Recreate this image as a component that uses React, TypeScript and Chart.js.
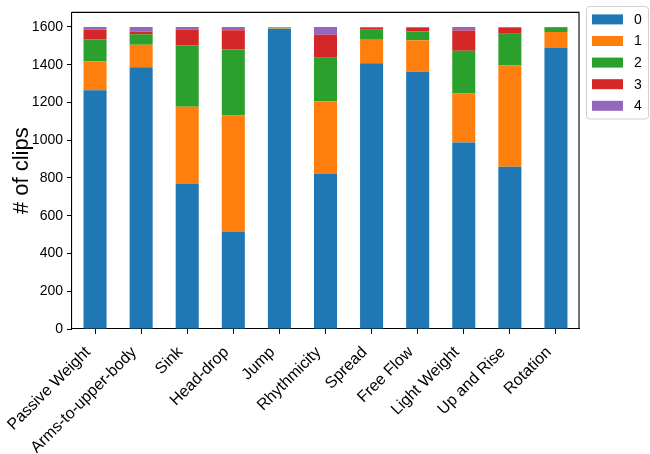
import React, { useEffect, useRef } from "react";
import { Chart, registerables } from "chart.js";

Chart.register(...registerables);

const categories = [
  "Passive Weight",
  "Arms-to-upper-body",
  "Sink",
  "Head-drop",
  "Jump",
  "Rhythmicity",
  "Spread",
  "Free Flow",
  "Light Weight",
  "Up and Rise",
  "Rotation",
];

const series0 = [1264, 1387, 768, 516, 1590, 821, 1407, 1363, 988, 860, 1488];
const series1 = [154, 118, 409, 615, 3, 385, 125, 166, 259, 536, 85];
const series2 = [117, 56, 326, 350, 4, 231, 53, 47, 227, 168, 22];
const series3 = [50, 14, 82, 102, 1, 122, 12, 21, 107, 33, 3];
const series4 = [15, 25, 15, 17, 0, 41, 3, 3, 19, 3, 1];

const seriesLabels = ["0", "1", "2", "3", "4"];
const seriesColors = ["#1f77b4", "#ff7f0e", "#2ca02c", "#d62728", "#9467bd"];
const yTicks = [0, 200, 400, 600, 800, 1000, 1200, 1400, 1600];
const yAxisTitle = "# of clips";

const FONT = "Arial, 'Liberation Sans', sans-serif";

export default function App() {
  const ref = useRef<HTMLCanvasElement | null>(null);

  useEffect(() => {
    if (!ref.current) return;
    const allSeries = [series0, series1, series2, series3, series4];

    const framePlugin = {
      id: "frameAndLegend",
      afterDraw(chart: any) {
        const { ctx, chartArea } = chart;
        ctx.save();
        ctx.strokeStyle = "#000";
        ctx.lineWidth = 1.1;
        ctx.beginPath();
        ctx.moveTo(chartArea.left, chartArea.top);
        ctx.lineTo(chartArea.right, chartArea.top);
        ctx.lineTo(chartArea.right, chartArea.bottom);
        ctx.stroke();

        // legend
        const lx = 586.5, ly = 6.5, lw = 62, lh = 112.5, r = 3;
        ctx.beginPath();
        ctx.moveTo(lx + r, ly);
        ctx.lineTo(lx + lw - r, ly);
        ctx.quadraticCurveTo(lx + lw, ly, lx + lw, ly + r);
        ctx.lineTo(lx + lw, ly + lh - r);
        ctx.quadraticCurveTo(lx + lw, ly + lh, lx + lw - r, ly + lh);
        ctx.lineTo(lx + r, ly + lh);
        ctx.quadraticCurveTo(lx, ly + lh, lx, ly + lh - r);
        ctx.lineTo(lx, ly + r);
        ctx.quadraticCurveTo(lx, ly, lx + r, ly);
        ctx.closePath();
        ctx.fillStyle = "rgba(255,255,255,0.8)";
        ctx.fill();
        ctx.strokeStyle = "#d0d0d0";
        ctx.lineWidth = 1;
        ctx.stroke();

        ctx.font = `14px ${FONT}`;
        ctx.textBaseline = "middle";
        ctx.textAlign = "left";
        seriesLabels.forEach((lab, i) => {
          const cy = 19.4 + i * 21.6;
          ctx.fillStyle = seriesColors[i];
          ctx.fillRect(592, cy - 5, 31, 10);
          ctx.fillStyle = "#000";
          ctx.fillText(lab, 634, cy + 0.5);
        });
        ctx.restore();
      },
    };

    const chart = new Chart(ref.current, {
      type: "bar",
      data: {
        labels: categories,
        datasets: allSeries.map((d, i) => ({
          label: seriesLabels[i],
          data: d,
          backgroundColor: seriesColors[i],
          borderWidth: 0,
          categoryPercentage: 1,
          barPercentage: 0.5,
        })),
      },
      options: {
        animation: false,
        responsive: false,
        maintainAspectRatio: false,
        layout: { padding: { top: 1, right: 71, left: 0, bottom: 0 } },
        plugins: {
          legend: { display: false },
          tooltip: { enabled: false },
        },
        scales: {
          x: {
            stacked: true,
            offset: true,
            grid: {
              display: true,
              drawOnChartArea: false,
              drawTicks: true,
              tickLength: 5,
              color: "#000",
              offset: false,
            },
            border: { display: true, color: "#000", width: 1.1 },
            ticks: {
              autoSkip: false,
              maxRotation: 45,
              minRotation: 45,
              color: "#000",
              padding: 9,
              labelOffset: -7,
              font: { size: 16, family: FONT },
            },
            afterFit(scale: any) {
              scale.height = 125;
            },
          },
          y: {
            stacked: true,
            min: 0,
            max: 1677,
            grid: {
              display: true,
              drawOnChartArea: false,
              drawTicks: true,
              tickLength: 5,
              color: "#000",
            },
            border: { display: true, color: "#000", width: 1.1 },
            ticks: {
              stepSize: 200,
              color: "#000",
              padding: 4,
              font: { size: 14, family: FONT },
              callback: (v: any) => String(v),
            },
            afterBuildTicks(scale: any) {
              scale.ticks = yTicks.map((v) => ({ value: v }));
            },
            title: {
              display: true,
              text: yAxisTitle,
              color: "#000",
              font: { size: 22, family: FONT },
              padding: { top: 9, bottom: 0 },
            },
            afterFit(scale: any) {
              scale.width = 72;
            },
          },
        },
      },
      plugins: [framePlugin],
    });
    return () => chart.destroy();
  }, []);

  return (
    <div style={{ position: "fixed", left: 0, top: 0, width: 650, height: 454, background: "#fff" }}>
      <canvas ref={ref} width={650} height={454} style={{ display: "block", width: 650, height: 454 }} />
    </div>
  );
}
